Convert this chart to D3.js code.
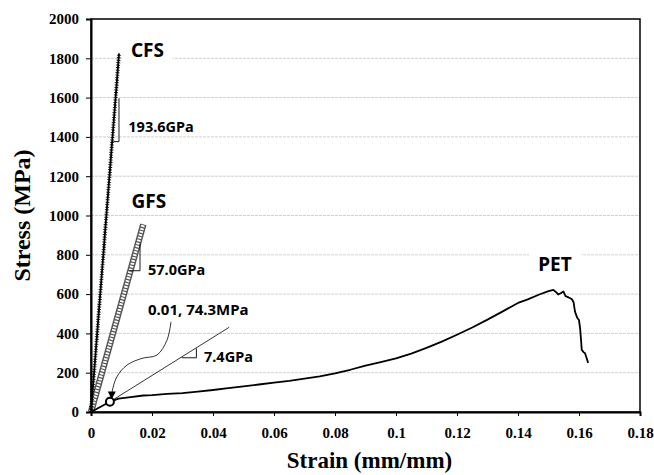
<!DOCTYPE html>
<html>
<head>
<meta charset="utf-8">
<script src="https://cdn.jsdelivr.net/npm/d3@7"></script>
<style>
  body { margin: 0; background: #fff; }
  .lbl { font-family: "Noto Sans", sans-serif; font-weight: bold; fill: #000; }
</style>
</head>
<body>
<div id="chart"></div>
<script>
// data
var cfsStrain = [0, 0.0092];
var cfsStress = [0, 1825];
var gfsStrain = [0, 0.01716];
var gfsStress = [0, 955];
var petStrain = [0, 0.0062, 0.0090, 0.0130, 0.0171, 0.0200, 0.0250, 0.0300, 0.0350, 0.0400,
    0.0450, 0.0500, 0.0550, 0.0600, 0.0650, 0.0700, 0.0750, 0.0800, 0.0850, 0.0900,
    0.0950, 0.1000, 0.1050, 0.1100, 0.1150, 0.1200, 0.1250, 0.1300, 0.1350, 0.1400,
    0.1430, 0.1470, 0.1500, 0.1516, 0.1525, 0.1532, 0.1540, 0.1549, 0.1556, 0.1566,
    0.1576, 0.1582, 0.1587, 0.1594, 0.1600, 0.1604, 0.1607, 0.1609, 0.1615, 0.1620,
    0.1625, 0.1630];
var petStress = [0, 52, 68, 76, 84, 86, 92, 96, 104, 112,
    121, 130, 140, 149, 158, 170, 181, 197, 215, 236,
    254, 273, 297, 326, 358, 393, 430, 470, 512, 555,
    572, 598, 615, 621, 610, 598, 604, 613, 590, 583,
    575, 560, 510, 480, 468, 420, 360, 316, 305, 298,
    275, 250];
var yTicks = [0, 200, 400, 600, 800, 1000, 1200, 1400, 1600, 1800, 2000];
var xTicks = [0, 0.02, 0.04, 0.06, 0.08, 0.1, 0.12, 0.14, 0.16, 0.18];

var width = 654, height = 475;
var margin = {left: 91, top: 19, right: 14, bottom: 63};
var w = width - margin.left - margin.right,
    h = height - margin.top - margin.bottom;

var svg = d3.select('#chart').append('svg')
        .attr('width', width)
        .attr('height', height);
var g = svg.append('g').attr('transform', 'translate(' + margin.left + ',' + margin.top + ')');

var x = d3.scaleLinear().domain([0, 0.18]).range([0, w]);
var y = d3.scaleLinear().domain([0, 2000]).range([h, 0]);

//grid
g.selectAll('.grid').data(yTicks.slice(1, -1)).enter().append('line')
        .attr('x1', 0).attr('x2', w)
        .attr('y1', function (d) { return y(d); })
        .attr('y2', function (d) { return y(d); })
        .attr('stroke', '#cfcfcf').attr('stroke-dasharray', '3,1');

//frame
g.append('rect').attr('width', w).attr('height', h)
        .attr('fill', 'none').attr('stroke', '#000').attr('stroke-width', 1.5);

var line = d3.line().x(function (d) { return x(d[0]); }).y(function (d) { return y(d[1]); });
function pairs(a, b) { return a.map(function (v, i) { return [v, b[i]]; }); }

//label boxes (white, hide grid)
function labelBox(cx, cy, bw, bh) {
    g.append('rect').attr('x', x(cx) - bw / 2).attr('y', y(cy) - bh / 2)
            .attr('width', bw).attr('height', bh).attr('fill', '#fff');
}
labelBox(0.01852, 1842, 50, 26);
labelBox(0.01895, 1071, 50, 26);
labelBox(0.15213, 750, 52, 26);

//GFS
var gfs = pairs(gfsStrain, gfsStress);
g.append('path').attr('d', line(gfs)).attr('fill', 'none')
        .attr('stroke', '#555').attr('stroke-width', 6.5);
g.append('path').attr('d', line(gfs)).attr('fill', 'none')
        .attr('stroke', '#fff').attr('stroke-width', 3.6).attr('stroke-dasharray', '1.8,1.2');

//CFS
var cfs = pairs(cfsStrain, cfsStress);
g.append('path').attr('d', line(cfs)).attr('fill', 'none')
        .attr('stroke', '#000').attr('stroke-width', 1.8);
g.append('path').attr('d', line(cfs)).attr('fill', 'none')
        .attr('stroke', '#000').attr('stroke-width', 4).attr('stroke-dasharray', '0.8,1.7');

//PET
var pet = pairs(petStrain, petStress);
g.append('path').attr('d', line(pet)).attr('fill', 'none')
        .attr('stroke', '#000').attr('stroke-width', 1.8).attr('stroke-linejoin', 'round');

//slope line for PET
g.append('path').attr('d', line([[0.0062, 52], [0.0453, 431]]))
        .attr('fill', 'none').attr('stroke', '#000').attr('stroke-width', 0.8);

//slope brackets
[[[0.00731, 1376], [0.00918, 1376], [0.00918, 1597]],
 [[0.01256, 719], [0.01607, 719], [0.01607, 858]],
 [[0.02974, 276], [0.03456, 276], [0.03456, 324]]].forEach(function (b) {
    g.append('path').attr('d', line(b)).attr('fill', 'none')
            .attr('stroke', '#000').attr('stroke-width', 0.9);
});

//yield point circle
g.append('circle').attr('cx', x(0.0062)).attr('cy', y(52)).attr('r', 4)
        .attr('fill', '#fff').attr('stroke', '#000').attr('stroke-width', 2);

//curved arrow
svg.append('defs').append('marker').attr('id', 'arr')
        .attr('viewBox', '0 0 10 10').attr('refX', 8).attr('refY', 5)
        .attr('markerWidth', 8).attr('markerHeight', 8).attr('orient', 'auto')
        .attr('markerUnits', 'userSpaceOnUse')
        .append('path').attr('d', 'M0,0L10,5L0,10z').attr('fill', '#000');
var arrowPts = [[0.02623, 459], [0.02492, 366], [0.02164, 290], [0.01672, 273],
    [0.01180, 239], [0.00852, 180], [0.00698, 107], [0.00678, 72]];
g.append('path').attr('d', line.curve(d3.curveCatmullRom)(arrowPts))
        .attr('fill', 'none').attr('stroke', '#000').attr('stroke-width', 0.8)
        .attr('marker-end', 'url(#arr)');
line.curve(d3.curveLinear);

//labels
function label(t, cx, cy, size, anchor) {
    g.append('text').attr('class', 'lbl').attr('x', x(cx)).attr('y', y(cy))
            .attr('dy', '0.36em').attr('text-anchor', anchor)
            .style('font-size', size + 'px').text(t);
}
label('CFS', 0.01852, 1842, 19, 'middle');
label('GFS', 0.01895, 1071, 19, 'middle');
label('PET', 0.15213, 750, 19, 'middle');
label('193.6GPa', 0.01223, 1450, 14.5, 'start');
label('57.0GPa', 0.01869, 722, 14.5, 'start');
label('0.01, 74.3MPa', 0.01869, 519, 15, 'start');
label('7.4GPa', 0.03705, 282, 14.5, 'start');

//axes
var yAxis = g.append('g').call(d3.axisLeft(y).tickValues(yTicks).tickSize(5).tickPadding(7)
        .tickFormat(d3.format('d')));
var xAxis = g.append('g').attr('transform', 'translate(0,' + h + ')')
        .call(d3.axisBottom(x).tickValues(xTicks).tickSize(4).tickPadding(11)
                .tickFormat(function (d) { return d === 0 ? '0' : String(+d.toFixed(2)); }));
[yAxis, xAxis].forEach(function (a) {
    a.select('.domain').attr('stroke-width', 2);
    a.selectAll('.tick line').attr('stroke-width', 1);
    a.selectAll('.tick text')
            .style('font-family', '"Liberation Serif", "Times New Roman", serif')
            .style('font-weight', 'bold').style('font-size', '15px').attr('fill', '#000');
});

//titles
svg.append('text').attr('transform', 'translate(22,' + (margin.top + h / 2) + ')rotate(-90)')
        .attr('text-anchor', 'middle').attr('dy', '0.35em')
        .style('font-family', '"Liberation Serif", serif').style('font-weight', 'bold')
        .style('font-size', '24px').text('Stress (MPa)');
svg.append('text').attr('x', margin.left + w / 2 + 4).attr('y', 468)
        .attr('text-anchor', 'middle')
        .style('font-family', '"Liberation Serif", serif').style('font-weight', 'bold')
        .style('font-size', '23px').text('Strain (mm/mm)');
</script>
</body>
</html>
